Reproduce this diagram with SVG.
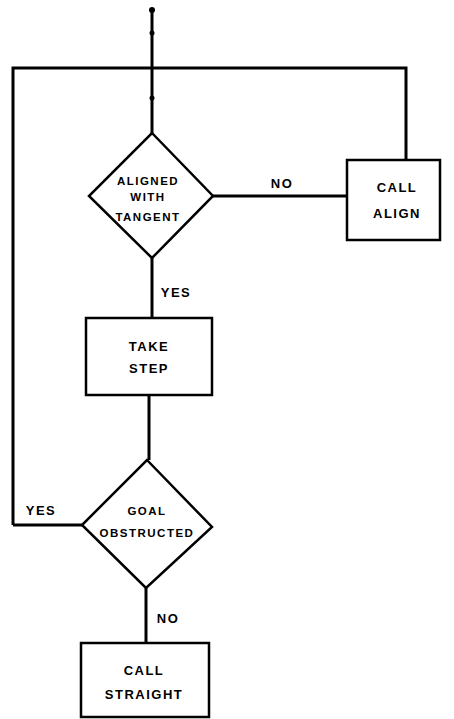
<svg xmlns="http://www.w3.org/2000/svg" width="454" height="719" viewBox="0 0 454 719">
<style>
.shape{fill:#fff;stroke:#000;stroke-width:2.5}
.c{fill:none;stroke:#000;stroke-width:3}
.t{font-family:"Liberation Sans",Arial,sans-serif;font-weight:bold;font-size:13px;letter-spacing:1.5px;fill:#000;text-anchor:middle}
.s{font-size:11.5px;letter-spacing:1.5px}
</style>
<rect width="454" height="719" fill="#fff"/>
<g id="connectors">
<path class="c" d="M152 8 V133"/>
<path class="c" d="M13 525 V68 H406 V160"/>
<path class="c" d="M213 196 H347"/>
<path class="c" d="M152 258 V318"/>
<path class="c" d="M149 395 V460"/>
<path class="c" d="M82 525 H13"/>
<path class="c" d="M146 588 V643"/>
<circle cx="152" cy="10" r="3"/>
<circle cx="152" cy="33" r="2.5"/>
<circle cx="152" cy="98" r="2.5"/>
<text class="t" x="282" y="188">NO</text>
<text class="t" x="176" y="297">YES</text>
<text class="t" x="41" y="515">YES</text>
<text class="t" x="168" y="623">NO</text>
</g>
<g id="aligned">
<polygon class="shape" points="152,133 213,196 152,258 89,196"/>
<text class="t s" x="148" y="185">ALIGNED</text>
<text class="t s" x="148" y="201">WITH</text>
<text class="t s" x="148" y="221">TANGENT</text>
</g>
<g id="callalign">
<rect class="shape" x="347" y="160" width="93" height="80"/>
<text class="t" x="397" y="192">CALL</text>
<text class="t" x="397" y="218">ALIGN</text>
</g>
<g id="takestep">
<rect class="shape" x="86" y="318" width="126" height="77"/>
<text class="t" x="149" y="351">TAKE</text>
<text class="t" x="149" y="373">STEP</text>
</g>
<g id="goal">
<polygon class="shape" points="147,460 212,527 146,588 82,525"/>
<text class="t s" x="147" y="515">GOAL</text>
<text class="t s" x="147" y="537">OBSTRUCTED</text>
</g>
<g id="callstraight">
<rect class="shape" x="81" y="643" width="128" height="74"/>
<text class="t" x="144" y="675">CALL</text>
<text class="t" x="144" y="699">STRAIGHT</text>
</g>
</svg>
